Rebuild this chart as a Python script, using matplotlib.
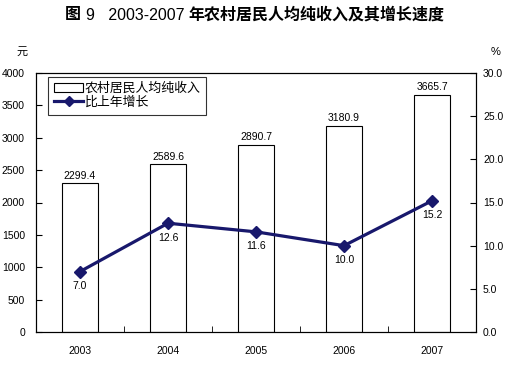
import matplotlib
matplotlib.use("Agg")
from matplotlib import pyplot as plt
import numpy as np

plt.rcParams['font.family'] = ['Liberation Sans', 'Noto Sans CJK SC']

years = ["2003", "2004", "2005", "2006", "2007"]
income = [2299.4, 2589.6, 2890.7, 3180.9, 3665.7]  # 元
growth = [7.0, 12.6, 11.6, 10.0, 15.2]  # %

navy = '#18186c'

fig = plt.figure(figsize=(5.16, 3.65), dpi=100)
ax = fig.add_axes([36 / 516, 1 - 332 / 365, 440 / 516, 259 / 365])
ax2 = ax.twinx()

x = np.arange(len(years))
ax.bar(x, income, width=0.4, color='white', edgecolor='black', linewidth=0.8,
       label='农村居民人均纯收入', zorder=2)
for xi, v in zip(x, income):
    ax.text(xi, v + 40, '%.1f' % v, ha='center', va='bottom', fontsize=7.5)

ax2.plot(x, growth, color=navy, linewidth=2.3, marker='D', markersize=6.5,
         label='比上年增长', zorder=3)
for xi, v in zip(x, growth):
    ax2.text(xi, v - 1.1, '%.1f' % v, ha='center', va='top', fontsize=7.5)

ax.set_xlim(-0.5, 4.5)
ax.set_ylim(0, 4000)
ax.set_yticks(np.arange(0, 4001, 500))
ax2.set_ylim(0, 30)
ax2.set_yticks(np.arange(0, 31, 5))
ax2.set_yticklabels(['%.1f' % t for t in np.arange(0, 31, 5)])

ax.set_xticks(x)
ax.set_xticklabels(years)
ax.set_xticks(np.arange(-0.5, 4.6, 1), minor=True)
ax.tick_params(axis='x', which='major', length=0, labelsize=7.5, pad=10)
ax.tick_params(axis='x', which='minor', direction='in', length=4)
ax.tick_params(axis='y', direction='in', length=4, labelsize=7.5, pad=8)
ax2.tick_params(axis='y', direction='in', length=4, labelsize=7.5, pad=5)

for a in (ax, ax2):
    for s in a.spines.values():
        s.set_linewidth(0.8)

fig.text(22 / 516, 1 - 52 / 365, '元', fontsize=8, ha='center', va='center')
fig.text(496 / 516, 1 - 52 / 365, '%', fontsize=8, ha='center', va='center')

# title: bold Chinese, plain numbers
parts = [('图 ', 'bold'), ('9   2003-2007 ', 'normal'), ('年农村居民人均纯收入及其增长速度', 'bold')]
renderer = fig.canvas.get_renderer()
texts = []
for s, w in parts:
    t = fig.text(0, 1 - 15 / 365, s, fontsize=11.5, fontweight=w, ha='left', va='center')
    texts.append(t)
widths = [t.get_window_extent(renderer).width for t in texts]
xpos = (516 - sum(widths)) / 2 - 3
for t, w in zip(texts, widths):
    t.set_x(xpos / 516)
    xpos += w

h1, l1 = ax.get_legend_handles_labels()
h2, l2 = ax2.get_legend_handles_labels()
leg = ax.legend(h1 + h2, l1 + l2, loc='upper left', bbox_to_anchor=(0.027, 0.985),
                fontsize=9.3, frameon=True, fancybox=False, edgecolor='black',
                borderpad=0.45, labelspacing=0.1, handlelength=2.3, handletextpad=0.1,
                borderaxespad=0, markerscale=0.8)
leg.get_frame().set_linewidth(0.8)

fig.savefig('out.png', dpi=100)
